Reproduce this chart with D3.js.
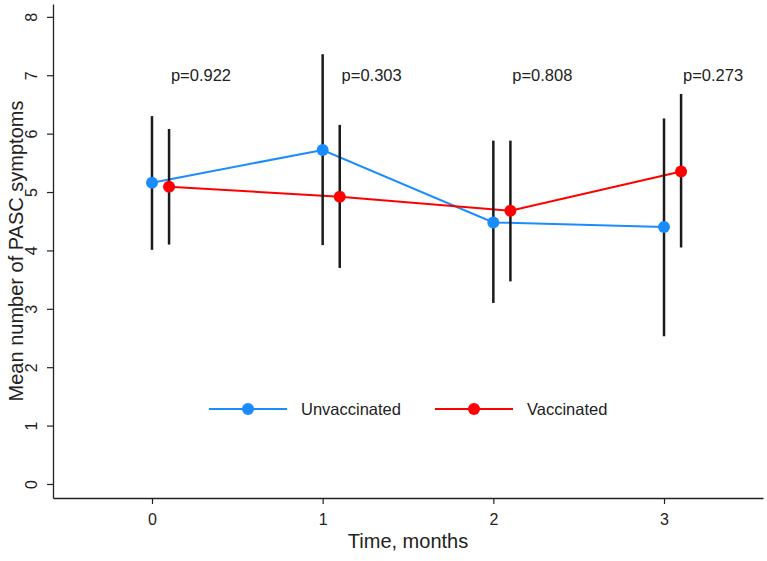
<!DOCTYPE html>
<html>
<head>
<meta charset="utf-8">
<script src="https://cdn.jsdelivr.net/npm/d3@7"></script>
<style>
  html, body { margin: 0; padding: 0; background: #fff; }
  svg { display: block; font-family: "Liberation Sans", Arial, sans-serif; }
  svg text { font-family: "Liberation Sans", Arial, sans-serif; }
</style>
</head>
<body>
<svg id="chart" width="767" height="561"></svg>
<script>
// ---- data ----
const months = [0, 1, 2, 3];
const unvacMean = [5.16, 5.72, 4.48, 4.40];
const unvacLow  = [4.01, 4.09, 3.10, 2.53];
const unvacHigh = [6.30, 7.36, 5.88, 6.26];
const vacMean = [5.09, 4.92, 4.68, 5.35];
const vacLow  = [4.10, 3.70, 3.47, 4.05];
const vacHigh = [6.08, 6.15, 5.88, 6.68];
const pLabels = ["p=0.922", "p=0.303", "p=0.808", "p=0.273"];
const yTicks = [0, 1, 2, 3, 4, 5, 6, 7, 8];
const seriesNames = ["Unvaccinated", "Vaccinated"];

const blue = "#1a8cff", red = "#ff0000", barColor = "#1a1a1a";

const svg = d3.select("#chart");
const x = d3.scaleLinear().domain([-0.58, 3.58]).range([53, 763]);
const y = d3.scaleLinear().domain([-0.24, 8.22]).range([498, 4]);

// axes
const yAxis = d3.axisLeft(y).tickValues(yTicks).tickSize(6).tickSizeOuter(0);
const gy = svg.append("g").attr("transform", `translate(${x.range()[0]},0)`).call(yAxis)
  .attr("font-family", null).attr("font-size", null);
gy.select(".domain").attr("stroke", "#222").attr("stroke-width", 1.3);
gy.selectAll(".tick line").attr("stroke", "#222").attr("stroke-width", 1.2);
gy.selectAll(".tick text").remove();
gy.selectAll(".tick").append("text")
  .attr("transform", "translate(-16.5,0) rotate(-90)")
  .attr("text-anchor", "middle")
  .attr("fill", "#222")
  .style("font-size", "16px")
  .text(d => d);

const xAxis = d3.axisBottom(x).tickValues(months).tickSize(6).tickSizeOuter(0)
  .tickPadding(10).tickFormat(d3.format("d"));
const gx = svg.append("g").attr("transform", `translate(0,${y.range()[0]})`).call(xAxis)
  .attr("font-family", null).attr("font-size", null);
gx.select(".domain").attr("stroke", "#222").attr("stroke-width", 1.3);
gx.selectAll(".tick line").attr("stroke", "#222").attr("stroke-width", 1.2);
gx.selectAll(".tick text").style("font-size", "16px").attr("fill", "#222");

// axis titles
svg.append("text")
  .attr("x", (x.range()[0] + x.range()[1]) / 2).attr("y", 548)
  .attr("text-anchor", "middle").style("font-size", "20px").attr("fill", "#222")
  .text("Time, months");
svg.append("text")
  .attr("transform", `translate(23,${(y.range()[0] + y.range()[1]) / 2}) rotate(-90)`)
  .attr("text-anchor", "middle").style("font-size", "20px").attr("fill", "#222")
  .text("Mean number of PASC symptoms");

const offset = 0.1;
const series = [
  { name: seriesNames[0], color: blue, dx: 0, mean: unvacMean, lo: unvacLow, hi: unvacHigh },
  { name: seriesNames[1], color: red, dx: offset, mean: vacMean, lo: vacLow, hi: vacHigh }
];

const line = d3.line().x(d => x(d[0])).y(d => y(d[1]));

// lines
series.forEach(s => {
  svg.append("path")
    .datum(months.map((m, i) => [m + s.dx, s.mean[i]]))
    .attr("d", line).attr("fill", "none")
    .attr("stroke", s.color).attr("stroke-width", 2);
});

// error bars
series.forEach(s => {
  svg.append("g").selectAll("line").data(months).join("line")
    .attr("x1", (m) => x(m + s.dx)).attr("x2", (m) => x(m + s.dx))
    .attr("y1", (m, i) => y(s.lo[i])).attr("y2", (m, i) => y(s.hi[i]))
    .attr("stroke", barColor).attr("stroke-width", 2.5);
});

// markers
series.forEach(s => {
  svg.append("g").selectAll("circle").data(months).join("circle")
    .attr("cx", (m) => x(m + s.dx)).attr("cy", (m, i) => y(s.mean[i]))
    .attr("r", 6).attr("fill", s.color);
});

// p-values
svg.append("g").selectAll("text").data(months).join("text")
  .attr("x", m => x(m + 0.111)).attr("y", y(7) + 6)
  .style("font-size", "16.5px").attr("fill", "#222")
  .text((m, i) => pLabels[i]);

// legend
const legendY = 409;
const legendItems = [
  { s: series[0], x0: 209, x1: 287, tx: 301 },
  { s: series[1], x0: 435, x1: 513, tx: 527 }
];
legendItems.forEach(li => {
  const g = svg.append("g");
  g.append("line").attr("x1", li.x0).attr("x2", li.x1).attr("y1", legendY).attr("y2", legendY)
    .attr("stroke", li.s.color).attr("stroke-width", 2);
  g.append("circle").attr("cx", (li.x0 + li.x1) / 2).attr("cy", legendY).attr("r", 6).attr("fill", li.s.color);
  g.append("text").attr("x", li.tx).attr("y", legendY + 6)
    .style("font-size", "16.5px").attr("fill", "#222").text(li.s.name);
});
</script>
</body>
</html>
